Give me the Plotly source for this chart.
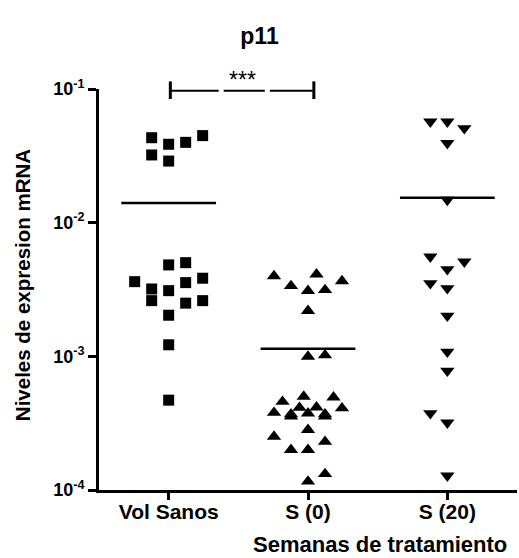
import plotly.graph_objects as go

# Expression values (relative mRNA) per group, and the jitter slot of each point
categories = ["Vol Sanos", "S (0)", "S (20)"]

vol_sanos = [0.0432, 0.0386, 0.0399, 0.0448, 0.0321, 0.0289,
             0.00483, 0.00502, 0.00362, 0.00319, 0.00310, 0.00356, 0.00384,
             0.00261, 0.00250, 0.00261, 0.00203, 0.00122, 0.00047]
vol_sanos_slot = [-1, 0, 1, 2, -1, 0,
                  0, 1, -2, -1, 0, 1, 2,
                  -1, 1, 2, 0, 0, 0]

s0 = [0.00399, 0.00411, 0.00366, 0.00336, 0.00309, 0.00314, 0.00219,
      0.000995, 0.00102,
      0.000458, 0.000500, 0.000494, 0.000379, 0.000369, 0.000356, 0.000413,
      0.000375, 0.000416, 0.000369, 0.000356, 0.000409,
      0.000282, 0.000251, 0.000200, 0.000200, 0.000230, 0.000116, 0.000132]
s0_slot = [-2, 0.5, 2, -1, 0, 1, 0,
           0, 1,
           -1.5, -0.25, 1.5, -2, -1, -1, -0.5,
           0, 0.5, 1, 1, 2,
           0, -2, -1, 0, 1, 0, 1]

s20 = [0.0569, 0.0569, 0.0508, 0.0393, 0.0148,
       0.00557, 0.00448, 0.00511, 0.00352, 0.00323, 0.00201,
       0.00108, 0.00078, 0.000375, 0.000319, 0.000128]
s20_slot = [-1, 0, 1, 0, 0,
            -1, 0, 1, -1, 0, 0,
            0, 0, -1, 0, 0]

y_tickvals = [1e-4, 1e-3, 1e-2, 1e-1]
y_ticktext = ["<b>10<sup>-4</sup></b>", "<b>10<sup>-3</sup></b>",
              "<b>10<sup>-2</sup></b>", "<b>10<sup>-1</sup></b>"]

FONT = "Liberation Sans, Arial, sans-serif"
SLOT_W = 0.122      # horizontal spacing between jitter slots (category units)
HALF_MEAN = 0.34    # half-width of the mean bar

groups = [
    (vol_sanos, vol_sanos_slot, "square", 11),
    (s0, s0_slot, "triangle-up", 12.5),
    (s20, s20_slot, "triangle-down", 12.5),
]

fig = go.Figure()
for i, (vals, slots, sym, size) in enumerate(groups):
    xs = [i + s * SLOT_W for s in slots]
    fig.add_trace(go.Scatter(
        x=xs, y=vals, mode="markers",
        marker=dict(symbol=sym, size=size, color="black", line=dict(width=0)),
        showlegend=False, hoverinfo="y"))
    mean = sum(vals) / len(vals)
    fig.add_trace(go.Scatter(
        x=[i - HALF_MEAN, i + HALF_MEAN], y=[mean, mean], mode="lines",
        line=dict(color="black", width=2.5), showlegend=False, hoverinfo="skip"))

# significance bracket between Vol Sanos and S (0)
seg_y = 0.9958
segments = [(0.012, 0.359), (0.395, 0.690), (0.726, 1.042)]
shapes = []
for a, b in segments:
    shapes.append(dict(type="line", xref="x", yref="paper", x0=a, x1=b,
                       y0=seg_y, y1=seg_y, line=dict(color="black", width=2)))
for cx in (0.012, 1.042):
    shapes.append(dict(type="line", xref="x", yref="paper", x0=cx, x1=cx,
                       y0=0.975, y1=1.019, line=dict(color="black", width=3)))

annotations = [
    dict(text="***", x=0.527, y=0.985, xref="x", yref="paper",
         showarrow=False, font=dict(family=FONT, size=23, color="black"),
         xanchor="center", yanchor="bottom"),
    dict(text="<b>Semanas de tratamiento</b>", x=0.672, y=-0.137,
         xref="paper", yref="paper", showarrow=False,
         font=dict(family=FONT, size=22, color="black"),
         xanchor="center", yanchor="middle"),
    dict(text="<b>Niveles de expresion mRNA</b>", x=-0.184, y=0.511,
         xref="paper", yref="paper", showarrow=False, textangle=-90,
         font=dict(family=FONT, size=20.5, color="black"),
         xanchor="center", yanchor="middle"),
]

fig.update_layout(
    width=519, height=558,
    margin=dict(l=99, r=2, t=89, b=68),
    plot_bgcolor="white", paper_bgcolor="white",
    title=dict(text="<b>p11</b>", x=0.5, xref="container", y=0.935,
               yref="container", xanchor="center", yanchor="middle",
               font=dict(family=FONT, size=23, color="black")),
    xaxis=dict(range=[-0.5, 2.5], tickvals=[0, 1, 2],
               ticktext=["<b>%s</b>" % c for c in categories],
               showline=True, linecolor="black", linewidth=3,
               ticks="outside", ticklen=7, tickwidth=3, tickcolor="black",
               ticklabelstandoff=-6,
               showgrid=False, zeroline=False,
               tickfont=dict(family=FONT, size=21, color="black")),
    yaxis=dict(type="log", range=[-4, -1], tickvals=y_tickvals,
               ticktext=y_ticktext,
               showline=True, linecolor="black", linewidth=3,
               ticks="outside", ticklen=8, tickwidth=3, tickcolor="black",
               showgrid=False, zeroline=False,
               tickfont=dict(family=FONT, size=18, color="black")),
    shapes=shapes, annotations=annotations,
)

fig.write_html("out.html")
